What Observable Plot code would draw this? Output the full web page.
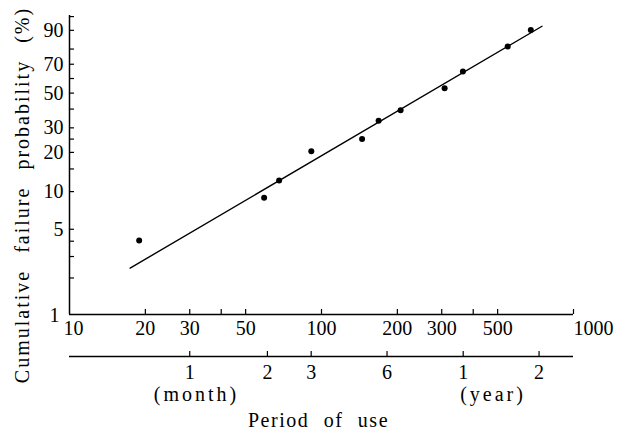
<!DOCTYPE html>
<html><head><meta charset="utf-8">
<script src="https://cdn.jsdelivr.net/npm/d3@7"></script>
<script src="https://cdn.jsdelivr.net/npm/@observablehq/plot@0.6"></script>
<style>
body{margin:0;background:#fff}
</style>
</head><body><div id="chart"></div>
<script>
// ---- data ----
const days       = [18.9, 59.2, 67.9, 91.1, 144.9, 168.5, 206, 308, 364, 548, 677];
const failurePct = [4.05, 8.93, 12.2, 20.4, 25.0, 33.5, 39.3, 53.3, 64.9, 81.5, 90.1];
const fitDays = [17.4, 750];
const fitPct  = [2.41, 91.7];
const xTicks      = [20, 30, 40, 50, 100, 200, 300, 400, 500, 1000];
const xStartLabel = [10];
const xTickLabels = [20, 30, 50, 100, 200, 300, 500];
const xEndLabel   = [1000];
const yBottomLabel = [1];
const yLabelTicks = [5, 10, 20, 30, 50, 70, 90];
const yMinorTicks = [2, 3, 4, 15, 25, 40, 60, 80, 95];
const periodDays   = [30, 61, 91, 182, 365, 730];
const periodLabels = ["1", "2", "3", "6", "1", "2"];
const monthUnit = [{d: 30, t: "(month)"}];
const yearUnit  = [{d: 365, t: "(year)"}];
const xDomain = [10, 1000];
const yDomainPct = [1, 95.3];
const yTitle = "Cumulative failure probability (%)";
const xTitle = "Period of use";

// Weibull probability-paper transform
const weibull = p => Math.log(-Math.log(1 - p / 100));

const W = 623, H = 432;
const mL = 69, mR = 50, mT = 15, mB = 118;
const FW = W - mL - mR, FH = H - mT - mB;
const font = "Liberation Serif, Times New Roman, serif";

const points = days.map((d, i) => ({d, p: failurePct[i]}));
const fit = fitDays.map((d, i) => ({d, p: fitPct[i]}));
const period = periodDays.map((d, i) => ({d, t: periodLabels[i]}));

const bottomText = (extra) => Object.assign({frameAnchor: "bottom", lineAnchor: "middle", textAnchor: "middle", fontSize: 20}, extra);

const plot = Plot.plot({
  width: W, height: H,
  marginLeft: mL, marginRight: mR, marginTop: mT, marginBottom: mB,
  style: {fontFamily: font, fontSize: "20px", background: "white", color: "black"},
  x: {type: "log", domain: xDomain, axis: null},
  y: {type: "linear", domain: yDomainPct.map(weibull), axis: null},
  marks: [
    // axis lines
    Plot.ruleY([yDomainPct[0]], {y: weibull, strokeWidth: 1.5}),
    Plot.ruleX([xDomain[0]], {strokeWidth: 1.5}),
    // inward ticks
    Plot.ruleX(xTicks, {insetTop: FH - 5, strokeWidth: 1.2}),
    Plot.ruleY(yLabelTicks.concat(yMinorTicks), {y: weibull, insetRight: FW - 5, strokeWidth: 1.2}),
    // tick labels
    Plot.text(xStartLabel, bottomText({x: d => d, text: d => String(d), dy: 14, dx: 4})),
    Plot.text(xTickLabels, bottomText({x: d => d, text: d => String(d), dy: 14})),
    Plot.text(xEndLabel, bottomText({x: d => d, text: d => String(d), dy: 14, textAnchor: "start"})),
    Plot.text(yLabelTicks, {y: weibull, text: d => String(d), frameAnchor: "left", lineAnchor: "middle", textAnchor: "end", dx: -6, fontSize: 20}),
    Plot.text(yBottomLabel, {y: weibull, text: d => String(d), frameAnchor: "left", lineAnchor: "middle", textAnchor: "end", dx: -10, dy: 1, fontSize: 20}),
    // secondary period axis
    Plot.ruleY([yDomainPct[0]], {y: weibull, dy: 42, strokeWidth: 1.5}),
    Plot.ruleX(periodDays, {insetTop: FH - 5, dy: 42, strokeWidth: 1.2}),
    Plot.text(period, bottomText({x: "d", text: "t", dy: 58})),
    Plot.text(monthUnit, bottomText({x: "d", text: "t", dy: 80, textAnchor: "start", dx: -36})),
    Plot.text(yearUnit, bottomText({x: "d", text: "t", dy: 80, textAnchor: "start", dx: -3})),
    // titles
    Plot.text([xTitle], bottomText({text: d => d, dy: 106, dx: -3})),
    Plot.text([yTitle], {text: d => d, frameAnchor: "left", lineAnchor: "middle", textAnchor: "middle", rotate: -90, dx: -47, dy: 30, fontSize: 20}),
    // fitted line and data
    Plot.line(fit, {x: "d", y: r => weibull(r.p), strokeWidth: 1.4}),
    Plot.dot(points, {x: "d", y: r => weibull(r.p), r: 3, fill: "black"})
  ]
});
document.getElementById("chart").appendChild(plot);

const svg = d3.select(plot);
svg.selectAll("text").filter(function(){ return this.textContent === yTitle; })
  .style("letter-spacing", "2px").style("word-spacing", "10px");
svg.selectAll("text").filter(function(){ return this.textContent === xTitle; })
  .style("letter-spacing", "1.5px").style("word-spacing", "8px");
svg.selectAll("text").filter(function(){ return this.textContent === "(month)" || this.textContent === "(year)"; })
  .style("letter-spacing", "3px");
</script>
</body></html>
